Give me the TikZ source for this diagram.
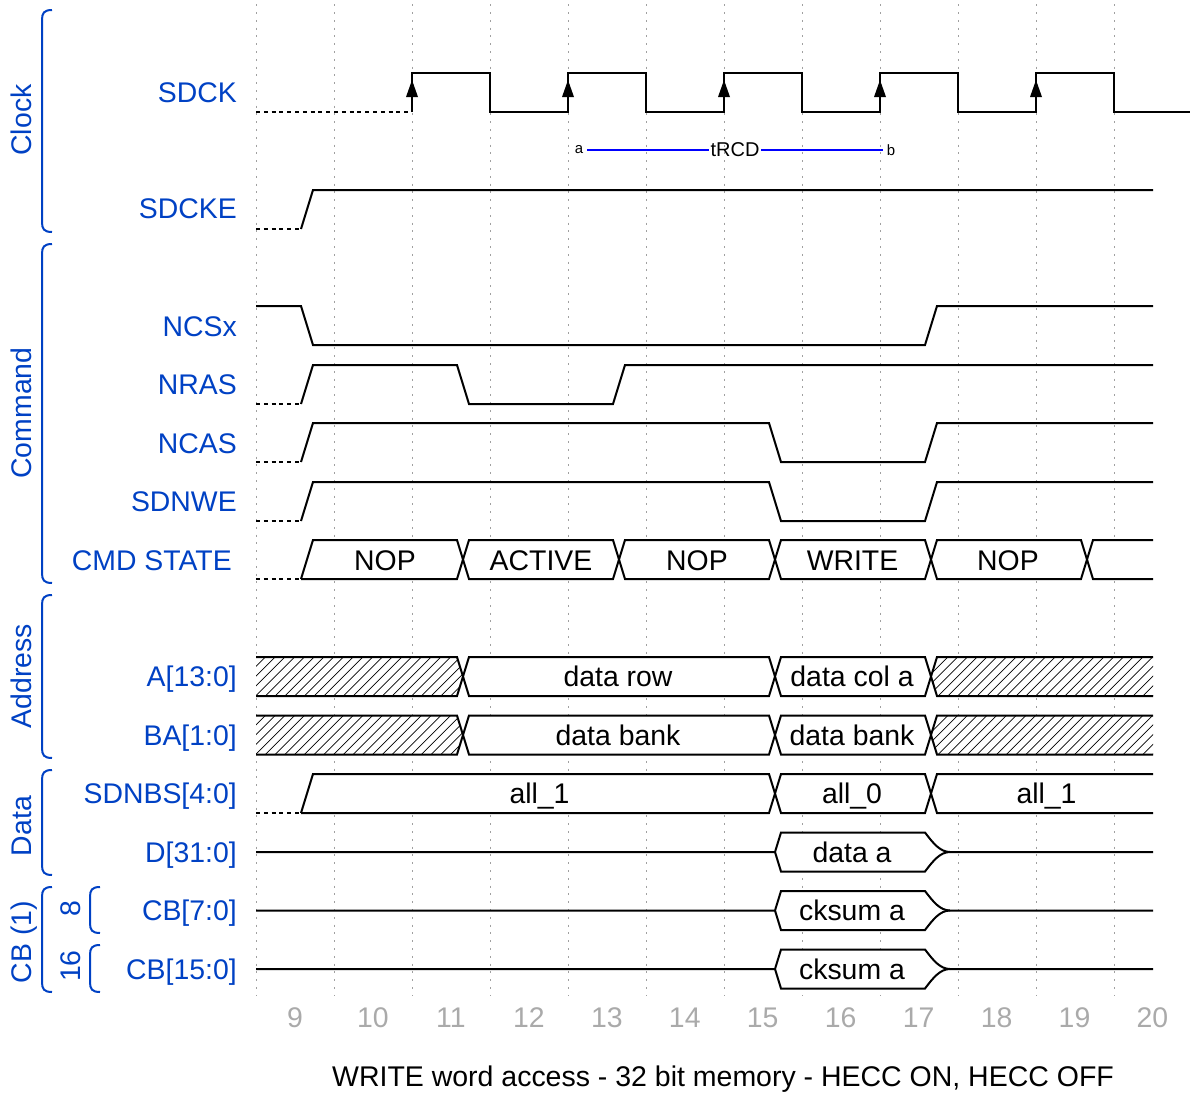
\documentclass[tikz,border=0pt]{standalone}
\usepackage{fontspec}
\setmainfont{Liberation Sans}
\definecolor{lblue}{HTML}{0041C4}
\definecolor{tickgrey}{HTML}{AAAAAA}
\definecolor{gridgrey}{HTML}{A0A0A0}
\tikzset{
  x=0.75pt, y=-0.75pt,
  wave/.style={line width=1.5pt, black, miter limit=10},
  dotwave/.style={line width=1.5pt, black, dash pattern=on 3pt off 2.85pt},
  gridline/.style={line width=0.75pt, gridgrey, dash pattern=on 1.5pt off 4.35pt},
  hatchline/.style={line width=0.5pt, black},
  bracket/.style={line width=1.5pt, lblue},
  siglabel/.style={anchor=base east, inner sep=0pt, text=lblue, font=\fontsize{21.3}{25}\selectfont},
  grouplabel/.style={anchor=base, rotate=90, inner sep=0pt, text=lblue, font=\fontsize{21.3}{25}\selectfont},
  datatext/.style={anchor=base, inner sep=0pt, text=black, font=\fontsize{21.3}{25}\selectfont},
  ticktext/.style={anchor=base, inner sep=0pt, text=tickgrey, font=\fontsize{21.3}{25}\selectfont},
  titletext/.style={anchor=base, inner sep=0pt, text=black, font=\fontsize{21.36}{25}\selectfont},
  markletter/.style={inner sep=3pt, text=black, font=\fontsize{11.2}{13}\selectfont},
  marktext/.style={inner sep=1pt, text=black, font=\fontsize{15}{18}\selectfont},
  markline/.style={line width=1.4pt, blue},
}
\begin{document}
\begin{tikzpicture}
\useasboundingbox (0,0) rectangle (1190,1093);
% grid
\foreach \gx in {256,334,...,1114} {\draw[gridline] (\gx,4.2) -- (\gx,996);}

% group brackets
\foreach \bx/\ya/\yb in {42/10/232, 42/244/583, 42/595/758, 42/770/875, 42/887/992, 90/887/933, 90/945/992}
  \draw[bracket] (\bx+10,\ya) .. controls (\bx+2,\ya) and (\bx,\ya+3) .. (\bx,\ya+10) -- (\bx,\yb-10) .. controls (\bx,\yb-3) and (\bx+2,\yb) .. (\bx+10,\yb);
\node[grouplabel] (gclock) at (31.5,120) {Clock};
\node[grouplabel] (gcommand) at (31.5,413) {Command};
\node[grouplabel] (gaddress) at (31.5,676) {Address};
\node[grouplabel] (gdata) at (31.5,826) {Data};
\node[grouplabel] (gcb) at (31.5,942) {CB (1)};
\node[grouplabel] (gcbeight) at (80,909) {8};
\node[grouplabel] (gcbsixteen) at (80,966) {16};

% signal labels
\node[siglabel] (lsdck) at (237,102) {SDCK};
\node[siglabel] (lsdcke) at (237,218.5) {SDCKE};
\node[siglabel] (lncsx) at (237,336) {NCSx};
\node[siglabel] (lnras) at (237,394) {NRAS};
\node[siglabel] (lncas) at (237,453) {NCAS};
\node[siglabel] (lsdnwe) at (237,511) {SDNWE};
\node[siglabel] (lcmd) at (232,570) {CMD STATE};
\node[siglabel] (la) at (237,686.5) {A[13:0]};
\node[siglabel] (lba) at (237,745) {BA[1:0]};
\node[siglabel] (lsdnbs) at (237,803.5) {SDNBS[4:0]};
\node[siglabel] (ld) at (237,862) {D[31:0]};
\node[siglabel] (lcbe) at (237,920.5) {CB[7:0]};
\node[siglabel] (lcbs) at (237,979) {CB[15:0]};

% SDCK
\draw[dotwave] (256,112) -- (412,112);
\draw[wave] (412,112) -- (412,73) -- (490,73) -- (490,112) -- (568,112) -- (568,73) -- (646,73) -- (646,112) -- (724,112) -- (724,73) -- (802,73) -- (802,112) -- (880,112) -- (880,73) -- (958,73) -- (958,112) -- (1036,112) -- (1036,73) -- (1114,73) -- (1114,112) -- (1190,112);
\foreach \ax in {412,568,724,880,1036} \fill[black] (\ax,80) -- (\ax+6,97) -- (\ax-6,97) -- cycle;

% tRCD marker
\node[markletter] (ma) at (579,150) {a};
\node[markletter] (mb) at (891,150) {b};
\node[marktext] (mt) at (735,150) {tRCD};
\draw[markline] (ma) -- (mt);
\draw[markline] (mt) -- (mb);

% SDCKE
\draw[dotwave] (256,229) -- (301,229);
\draw[wave] (301,229) -- (313,190) -- (1153,190);
% NCSx
\draw[wave] (256,306) -- (301,306) -- (313,345) -- (925,345) -- (937,306) -- (1153,306);
% NRAS
\draw[dotwave] (256,404) -- (301,404);
\draw[wave] (301,404) -- (313,365) -- (457,365) -- (469,404) -- (613,404) -- (625,365) -- (1153,365);
% NCAS
\draw[dotwave] (256,462) -- (301,462);
\draw[wave] (301,462) -- (313,423) -- (769,423) -- (781,462) -- (925,462) -- (937,423) -- (1153,423);
% SDNWE
\draw[dotwave] (256,521) -- (301,521);
\draw[wave] (301,521) -- (313,482) -- (769,482) -- (781,521) -- (925,521) -- (937,482) -- (1153,482);

% CMD STATE
\draw[dotwave] (256,579) -- (301,579);
\fill[white] (301,579) -- (313,540) -- (1153,540) -- (1153,579) -- cycle;
\draw[wave] (301,579) -- (313,540) -- (457,540) -- (469,579) -- (613,579) -- (625,540) -- (769,540) -- (781,579) -- (925,579) -- (937,540) -- (1081,540) -- (1093,579) -- (1153,579);
\draw[wave] (301,579) -- (457,579) -- (469,540) -- (613,540) -- (625,579) -- (769,579) -- (781,540) -- (925,540) -- (937,579) -- (1081,579) -- (1093,540) -- (1153,540);
\node[datatext] (c1) at (385,570) {NOP};
\node[datatext] (c2) at (541,570) {ACTIVE};
\node[datatext] (c3) at (697,570) {NOP};
\node[datatext] (c4) at (852.5,570) {WRITE};
\node[datatext] (c5) at (1008,570) {NOP};

% A and BA
\foreach \yt/\yb in {657/696, 715.5/754.5} {
  \pgfmathsetmacro{\ym}{(\yt+\yb)/2}
  \fill[white] (256,\yt) -- (1153,\yt) -- (1153,\yb) -- (256,\yb) -- cycle;
  \begin{scope}
    \clip (256,\yt) -- (457,\yt) -- (463,\ym) -- (457,\yb) -- (256,\yb) -- cycle;
    \foreach \hk in {0,...,25} \draw[hatchline] ({226.3+9.75*\hk},\yb) -- +(39,-39);
  \end{scope}
  \begin{scope}
    \clip (1153,\yt) -- (937,\yt) -- (931,\ym) -- (937,\yb) -- (1153,\yb) -- cycle;
    \foreach \hk in {0,...,27} \draw[hatchline] ({226.3+9.75*(\hk+70)},\yb) -- +(39,-39);
  \end{scope}
  \draw[wave] (256,\yt) -- (457,\yt) -- (469,\yb) -- (769,\yb) -- (781,\yt) -- (925,\yt) -- (937,\yb) -- (1153,\yb);
  \draw[wave] (256,\yb) -- (457,\yb) -- (469,\yt) -- (769,\yt) -- (781,\yb) -- (925,\yb) -- (937,\yt) -- (1153,\yt);
}
\node[datatext] (a1) at (618,686.5) {data row};
\node[datatext] (a2) at (852,686.5) {data col a};
\node[datatext] (b1) at (618,745) {data bank};
\node[datatext] (b2) at (852,745) {data bank};

% SDNBS
\draw[dotwave] (256,813) -- (301,813);
\fill[white] (301,813) -- (313,774) -- (1153,774) -- (1153,813) -- cycle;
\draw[wave] (301,813) -- (313,774) -- (769,774) -- (781,813) -- (925,813) -- (937,774) -- (1153,774);
\draw[wave] (301,813) -- (769,813) -- (781,774) -- (925,774) -- (937,813) -- (1153,813);
\node[datatext] (s1) at (539.5,803.5) {all\_1};
\node[datatext] (s2) at (852,803.5) {all\_0};
\node[datatext] (s3) at (1046.5,803.5) {all\_1};

% D / CB rows
\foreach \ym/\nm/\txt in {852/d/data a, 910.5/e/cksum a, 969/f/cksum a} {
  \fill[white] (775,\ym) -- (781,\ym-19.5) -- (925,\ym-19.5) .. controls (933,\ym-9) and (940,\ym) .. (950,\ym) .. controls (940,\ym) and (933,\ym+9) .. (925,\ym+19.5) -- (781,\ym+19.5) -- cycle;
  \draw[wave] (256,\ym) -- (775,\ym) -- (781,\ym-19.5) -- (925,\ym-19.5) .. controls (933,\ym-9) and (940,\ym) .. (950,\ym) -- (1153,\ym);
  \draw[wave] (775,\ym) -- (781,\ym+19.5) -- (925,\ym+19.5) .. controls (933,\ym+9) and (940,\ym) .. (950,\ym);
  \node[datatext] (v\nm) at (852,\ym+10) {\txt};
}

% ticks
\foreach \tn [count=\ti from 0] in {9,10,...,20} {
  \node[ticktext] (t\tn) at (295+77.95*\ti,1027) {\tn};
}
% title
\node[titletext] (title) at (723,1086) {WRITE word access - 32 bit memory - HECC ON, HECC OFF};
\end{tikzpicture}
\end{document}
